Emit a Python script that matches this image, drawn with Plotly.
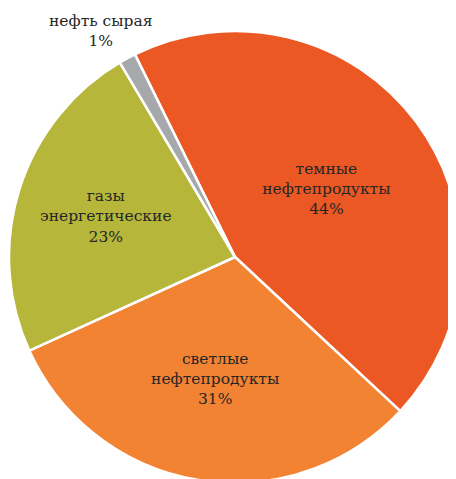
import plotly.graph_objects as go

# shares of exports (%)
labels = ["темные<br>нефтепродукты", "светлые<br>нефтепродукты", "газы<br>энергетические", "нефть сырая"]
values = [44.25, 31.25, 23.3, 1.2]
colors = ["#EC5824", "#F28333", "#B5B63A", "#A7A8AB"]

W, H = 456, 479
FONT = "DejaVu Serif"

fig = go.Figure()
fig.add_trace(
    go.Pie(
        labels=labels,
        values=values,
        sort=False,
        direction="clockwise",
        rotation=-26.3,
        marker=dict(colors=colors, line=dict(color="white", width=2.5)),
        texttemplate=["%{label}<br>%{percent:.0%}"] * 3 + [""],
        textposition="inside",
        insidetextorientation="horizontal",
        textfont=dict(family=FONT, size=15.5, color="#262626"),
        insidetextfont=dict(family=FONT, size=15.5, color="#262626"),
        hoverinfo="label+percent",
        domain=dict(x=[1 / W, 453 / W], y=[4 / H, 456 / H]),
        showlegend=False,
    )
)

# the tiny slice is labelled above the pie
fig.add_annotation(
    text=f"нефть сырая<br>{values[3]:.0f}%",
    x=93 / W, y=1 - 23 / H, xref="paper", yref="paper",
    xanchor="center", yanchor="middle",
    showarrow=False,
    font=dict(family=FONT, size=15.5, color="#262626"),
)

fig.update_layout(
    width=W,
    height=H,
    margin=dict(l=0, r=0, t=0, b=0),
    paper_bgcolor="white",
    plot_bgcolor="white",
)

fig.write_html("out.html")
